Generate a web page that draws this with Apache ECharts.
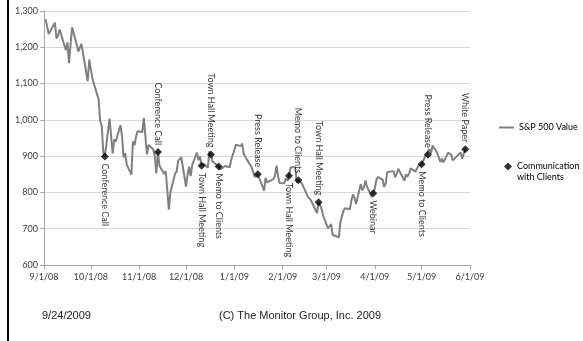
<!DOCTYPE html>
<html>
<head>
<meta charset="utf-8">
<script src="https://cdn.jsdelivr.net/npm/echarts@6.0.0/dist/echarts.min.js"></script>
<style>
  html, body { margin: 0; padding: 0; background: #fff; }
  #main { width: 583px; height: 341px; }
</style>
</head>
<body>
<div id="main"></div>
<script>
// S&P 500 daily closes, one pair of arrays per month (trading days)
const sep08Days = [2, 3, 4, 5, 8, 9, 10, 11, 12, 15, 16, 17, 18, 19, 22, 23, 24, 25, 26, 29, 30];
const sep08Close = [1277.6, 1275.0, 1236.8, 1242.3, 1267.8, 1224.5, 1232.0, 1249.1, 1251.7, 1192.7, 1213.6, 1156.4, 1206.5, 1255.1, 1207.1, 1188.2, 1185.9, 1209.2, 1213.3, 1106.4, 1166.4];
const oct08Days = [1, 2, 3, 6, 7, 8, 9, 10, 13, 14, 15, 16, 17, 20, 21, 22, 23, 24, 27, 28, 29, 30, 31];
const oct08Close = [1161.1, 1114.3, 1099.2, 1056.9, 996.2, 984.9, 909.9, 899.2, 1003.4, 998.0, 907.8, 946.4, 940.6, 985.4, 955.1, 896.8, 908.1, 876.8, 848.9, 940.5, 930.1, 954.1, 968.8];
const nov08Days = [3, 4, 5, 6, 7, 10, 11, 12, 13, 14, 17, 18, 19, 20, 21, 24, 25, 26, 28];
const nov08Close = [966.3, 1005.8, 952.8, 904.9, 931.0, 919.2, 899.0, 852.3, 911.3, 873.3, 850.8, 859.1, 806.6, 752.4, 800.0, 851.8, 857.4, 887.7, 896.2];
const dec08Days = [1, 2, 3, 4, 5, 8, 9, 10, 11, 12, 15, 16, 17, 18, 19, 22, 23, 24, 26, 29, 30, 31];
const dec08Close = [816.2, 848.8, 870.7, 845.2, 876.1, 909.7, 888.7, 899.2, 873.6, 879.7, 868.6, 913.2, 904.4, 885.3, 887.9, 871.6, 863.2, 868.2, 872.8, 869.4, 890.6, 903.3];
const jan09Days = [2, 5, 6, 7, 8, 9, 12, 13, 14, 15, 16, 20, 21, 22, 23, 26, 27, 28, 29, 30];
const jan09Close = [931.8, 927.5, 934.7, 906.7, 909.7, 890.4, 870.3, 871.8, 842.6, 843.7, 850.1, 805.2, 840.2, 827.5, 832.0, 836.6, 845.7, 874.1, 845.1, 825.9];
const feb09Days = [2, 3, 4, 5, 6, 9, 10, 11, 12, 13, 17, 18, 19, 20, 23, 24, 25, 26, 27];
const feb09Close = [825.4, 838.5, 832.2, 845.9, 868.6, 869.9, 827.2, 833.7, 835.2, 826.8, 789.2, 788.4, 778.9, 770.1, 743.3, 773.1, 764.9, 752.8, 735.1];
const mar09Days = [2, 3, 4, 5, 6, 9, 10, 11, 12, 13, 16, 17, 18, 19, 20, 23, 24, 25, 26, 27, 30, 31];
const mar09Close = [700.8, 696.3, 712.9, 682.6, 683.4, 676.5, 719.6, 721.4, 750.7, 756.6, 753.9, 778.1, 794.4, 784.0, 768.5, 822.9, 806.1, 813.9, 832.9, 815.9, 787.5, 797.9];
const apr09Days = [1, 2, 3, 6, 7, 8, 9, 13, 14, 15, 16, 17, 20, 21, 22, 23, 24, 27, 28, 29, 30];
const apr09Close = [811.1, 834.4, 842.5, 835.5, 815.6, 825.2, 856.6, 858.7, 841.5, 852.1, 865.3, 869.6, 832.4, 850.1, 843.6, 851.9, 866.2, 857.5, 855.2, 873.6, 872.8];
const may09Days = [1, 4, 5, 6, 7, 8, 11, 12, 13, 14, 15, 18, 19, 20, 21, 22, 26, 27, 28, 29];
const may09Close = [877.5, 907.2, 903.8, 919.5, 907.4, 929.2, 909.2, 908.4, 883.9, 893.1, 882.9, 909.7, 908.1, 903.5, 888.3, 887.0, 910.3, 893.1, 906.8, 919.1];

// client communications
const commDates = ['2008-10-10', '2008-11-13', '2008-12-11', '2008-12-17', '2008-12-22', '2009-01-16', '2009-02-05', '2009-02-11', '2009-02-24', '2009-03-31', '2009-05-01', '2009-05-05', '2009-05-29'];
const commLabels = ['Conference Call', 'Conference Call', 'Town Hall Meeting', 'Town Hall Meeting', 'Memo to Clients', 'Press Release', 'Town Hall Meeting', 'Memo to Clients', 'Town Hall Meeting', 'Webinar', 'Memo to Clients', 'Press Release', 'White Paper'];
const commSide = ['below', 'above', 'below', 'above', 'below', 'above', 'below', 'above', 'above', 'below', 'below', 'above', 'above'];

const yTicks = [600, 700, 800, 900, 1000, 1100, 1200, 1300];

const pad = n => (n < 10 ? '0' + n : '' + n);
const months = [
  ['2008-09', sep08Days, sep08Close],
  ['2008-10', oct08Days, oct08Close],
  ['2008-11', nov08Days, nov08Close],
  ['2008-12', dec08Days, dec08Close],
  ['2009-01', jan09Days, jan09Close],
  ['2009-02', feb09Days, feb09Close],
  ['2009-03', mar09Days, mar09Close],
  ['2009-04', apr09Days, apr09Close],
  ['2009-05', may09Days, may09Close]
];
let spx = [];
let lookup = {};
months.forEach(m => {
  m[1].forEach((d, i) => {
    let key = m[0] + '-' + pad(d);
    spx.push([key, m[2][i]]);
    lookup[key] = m[2][i];
  });
});

let comm = commDates.map((d, i) => {
  let below = commSide[i] === 'below';
  return {
    name: commLabels[i],
    value: [d, lookup[d]],
    label: {
      show: true,
      position: below ? 'bottom' : 'top',
      distance: 3,
      rotate: -90,
      align: below ? 'left' : 'right',
      verticalAlign: 'middle'
    }
  };
});

const lbl = { fontFamily: 'Lato', fontSize: 9, color: '#404040' };

let chart = echarts.init(document.getElementById('main'));
let option = {
  animation: false,
  grid: { left: 44, right: 113, top: 11, bottom: 76 },
  xAxis: {
    type: 'time',
    min: '2008-09-01',
    max: '2009-06-01',
    minInterval: 28 * 86400000,
    maxInterval: 31 * 86400000,
    axisLine: { lineStyle: { color: '#a6a6a6', width: 1 } },
    axisTick: { show: true, length: 4, lineStyle: { color: '#a6a6a6' } },
    splitLine: { show: false },
    axisLabel: Object.assign({}, lbl, {
      margin: 8,
      hideOverlap: false,
      formatter: function (v) {
        let d = new Date(v);
        return (d.getMonth() + 1) + '/' + d.getDate() + '/' + String(d.getFullYear()).slice(2);
      }
    })
  },
  yAxis: {
    type: 'value',
    min: 600,
    max: 1300,
    interval: 100,
    axisLine: { show: true, lineStyle: { color: '#a6a6a6', width: 1 } },
    axisTick: { show: true, length: 4, lineStyle: { color: '#a6a6a6' } },
    splitLine: { lineStyle: { color: '#d9d9d9', width: 1 } },
    axisLabel: Object.assign({}, lbl, {
      margin: 6,
      formatter: v => (yTicks.indexOf(v) >= 0 ? v.toLocaleString('en-US') : '')
    })
  },
  legend: [
    {
      data: [{ name: 'S&P 500 Value', icon: 'rect' }],
      left: 499,
      top: 123,
      itemWidth: 15,
      itemHeight: 2,
      itemGap: 0,
      padding: 0,
      textStyle: { fontFamily: 'Lato', fontSize: 9, color: '#000' }
    },
    {
      data: [{ name: 'Communication with Clients', icon: 'diamond' }],
      left: 504,
      top: 162,
      itemWidth: 8,
      itemHeight: 8,
      padding: 0,
      formatter: () => 'Communication',
      textStyle: { fontFamily: 'Lato', fontSize: 9, color: '#000' }
    }
  ],
  graphic: [
    { type: 'rect', left: 7, top: 0, shape: { width: 2, height: 341 }, style: { fill: '#000' } },
    { type: 'text', left: 517, top: 173, style: { text: 'with Clients', font: '9px Lato', fill: '#000' } },
    { type: 'text', left: 42, top: 310, style: { text: '9/24/2009', font: '11px "Liberation Sans"', fill: '#222' } },
    { type: 'text', left: 219, top: 310, style: { text: '(C) The Monitor Group, Inc. 2009', font: '11px "Liberation Sans"', fill: '#222' } }
  ],
  series: [
    {
      name: 'S&P 500 Value',
      type: 'line',
      data: spx,
      showSymbol: false,
      lineStyle: { color: '#808080', width: 2 },
      itemStyle: { color: '#808080' },
      z: 2
    },
    {
      name: 'Communication with Clients',
      type: 'scatter',
      data: comm,
      symbol: 'diamond',
      symbolSize: 8,
      itemStyle: { color: '#000' },
      label: {
        fontFamily: 'Lato',
        fontSize: 9,
        color: '#000',
        formatter: p => p.name
      },
      z: 3
    }
  ]
};
chart.setOption(option);
</script>
</body>
</html>
